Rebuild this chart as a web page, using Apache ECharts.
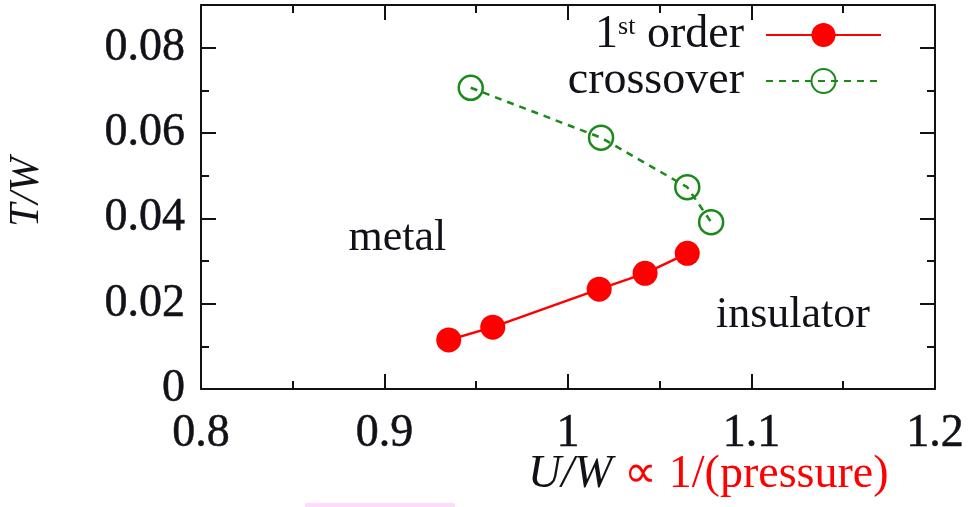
<!DOCTYPE html>
<html>
<head>
<meta charset="utf-8">
<script src="https://cdn.jsdelivr.net/npm/echarts@6/dist/echarts.min.js"></script>
<style>
  html, body { margin: 0; padding: 0; background: #fff; }
  #chart { width: 969px; height: 507px; }
</style>
</head>
<body>
<div id="chart"></div>
<script>
// Phase boundary: first-order transition line (U/W, T/W)
const firstOrderU = [0.935, 0.959, 1.017, 1.042, 1.065];
const firstOrderT = [0.0115, 0.0145, 0.0234, 0.0271, 0.0318];
// Crossover line above the critical end point
const crossoverU = [0.947, 1.018, 1.065, 1.078];
const crossoverT = [0.0706, 0.0589, 0.0473, 0.0391];
// Region labels
const regionNames = ['metal', 'insulator'];
const regionU = [0.907, 1.1226];
const regionT = [0.0353, 0.0173];
// Axis ranges and tick steps
const xRange = [0.8, 1.2], xStep = 0.1;
const yRange = [0, 0.09], yStep = 0.02;

const FONT = '"Liberation Serif", "Times New Roman", serif';
const INK = '#111118';
const FS = 46;

const pairs = (xs, ys) => xs.map((x, i) => [x, ys[i]]);

const chart = echarts.init(document.getElementById('chart'));

const axisCommon = {
  axisLine: { show: true, onZero: false, lineStyle: { color: INK, width: 2 } },
  axisTick: { show: true, inside: true, length: 15, lineStyle: { color: INK, width: 2 } },
  minorTick: { show: true, splitNumber: 2, length: 8, lineStyle: { color: INK, width: 2 } },
  splitLine: { show: false }
};

const tickFmt = v => (Math.abs(v) < 1e-9 ? '0' : String(+v.toFixed(3)));

chart.setOption({
  animation: false,
  grid: { left: 201, right: 34, top: 5, bottom: 118 },
  xAxis: [
    Object.assign({
      type: 'value', min: xRange[0], max: xRange[1], interval: xStep, position: 'bottom',
      axisLabel: { color: INK, fontFamily: FONT, fontSize: FS, margin: 22, formatter: tickFmt,
        textBorderColor: INK, textBorderWidth: 0.5 }
    }, axisCommon),
    Object.assign({
      type: 'value', min: xRange[0], max: xRange[1], interval: xStep, position: 'top',
      axisLabel: { show: false }
    }, axisCommon)
  ],
  yAxis: [
    Object.assign({
      type: 'value', min: yRange[0], max: yRange[1], interval: yStep, position: 'left',
      axisLabel: { color: INK, fontFamily: FONT, fontSize: FS, margin: 16, formatter: tickFmt,
        textBorderColor: INK, textBorderWidth: 0.5, showMaxLabel: false }
    }, axisCommon),
    Object.assign({
      type: 'value', min: yRange[0], max: yRange[1], interval: yStep, position: 'right',
      axisLabel: { show: false }
    }, axisCommon)
  ],
  legend: {
    orient: 'vertical', right: 87, top: 12, align: 'right', padding: 0,
    itemWidth: 115, itemHeight: 30, itemGap: 0,
    data: ['1st order', 'crossover'],
    formatter: name => name === '1st order' ? '{n|1}{s|st}{n| order}' : '{n|crossover}',
    textStyle: {
      color: INK, fontFamily: FONT, fontSize: FS, lineHeight: 42, padding: [0, 17, 0, 0],
      rich: {
        n: { fontFamily: FONT, fontSize: FS, color: INK, lineHeight: 42 },
        s: { fontFamily: FONT, fontSize: 26, color: INK, lineHeight: 26, verticalAlign: 'top' }
      }
    }
  },
  series: [
    {
      name: '1st order', type: 'line', data: pairs(firstOrderU, firstOrderT),
      symbol: 'circle', symbolSize: 25,
      itemStyle: { color: '#ff0000' },
      lineStyle: { color: '#ff0000', width: 2.5 }
    },
    {
      name: 'crossover', type: 'line', data: pairs(crossoverU, crossoverT),
      symbol: 'circle', symbolSize: 24,
      itemStyle: { color: 'rgba(255,255,255,0)', borderColor: '#1a8a1a', borderWidth: 2.5 },
      lineStyle: { color: '#1a8a1a', width: 2.5, type: [7, 6] }
    },
    {
      name: 'regions', type: 'scatter', symbolSize: 0, silent: true,
      itemStyle: { opacity: 1 },
      data: regionNames.map((n, i) => ({ name: n, value: [regionU[i], regionT[i]] })),
      label: {
        show: true, position: 'inside', formatter: p => p.name, opacity: 1,
        color: INK, fontFamily: FONT, fontSize: 44
      }
    }
  ],
  graphic: [
    {
      type: 'text', left: 6, top: 157, rotation: Math.PI / 2,
      style: { text: 'T/W', fill: INK, font: 'italic 42px ' + FONT }
    },
    {
      type: 'text', left: 528, top: 452,
      style: {
        text: '{i|U/W}{g| }{r|∝ 1/(pressure)}',
        rich: {
          i: { fill: INK, font: 'italic 46px ' + FONT },
          g: { width: 12, font: '46px ' + FONT },
          r: { fill: '#ff0000', font: '46px ' + FONT }
        }
      }
    },
    {
      type: 'rect', shape: { x: 305, y: 503, width: 150, height: 4 },
      style: { fill: '#fcdcfa' }
    }
  ]
});
</script>
</body>
</html>
